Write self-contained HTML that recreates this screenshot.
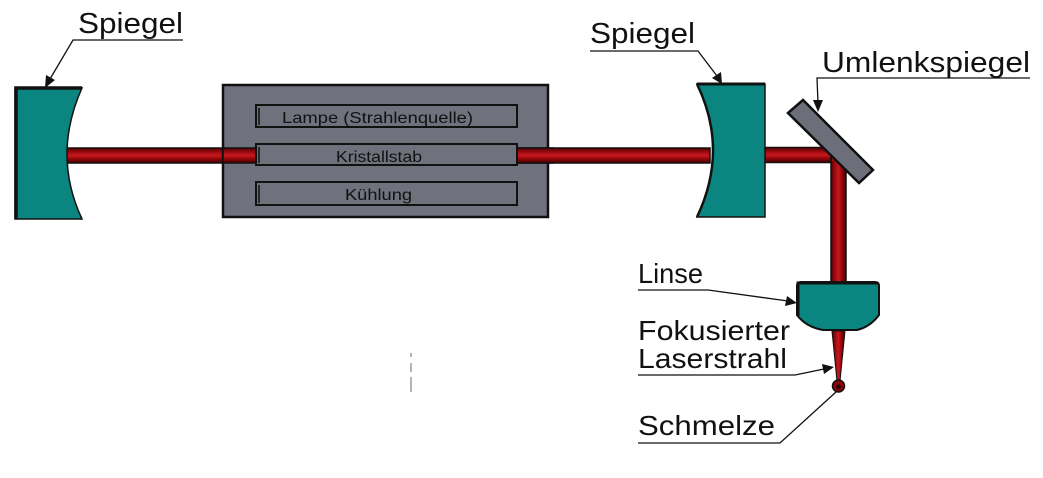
<!DOCTYPE html>
<html>
<head>
<meta charset="utf-8">
<style>
html,body{margin:0;padding:0;background:#fff;}
svg{display:block;}
text{font-family:"Liberation Sans",sans-serif;fill:#111;}
</style>
</head>
<body>
<svg width="1043" height="478" viewBox="0 0 1043 478" xmlns="http://www.w3.org/2000/svg">
<defs>
<linearGradient id="bh" x1="0" y1="0" x2="0" y2="1">
<stop offset="0" stop-color="#5a0000"/>
<stop offset="0.3" stop-color="#a00d12"/>
<stop offset="0.5" stop-color="#c8181e"/>
<stop offset="0.75" stop-color="#8a0508"/>
<stop offset="1" stop-color="#4a0000"/>
</linearGradient>
<linearGradient id="bv" x1="0" y1="0" x2="1" y2="0">
<stop offset="0" stop-color="#5a0000"/>
<stop offset="0.3" stop-color="#a00d12"/>
<stop offset="0.5" stop-color="#c8181e"/>
<stop offset="0.75" stop-color="#8a0508"/>
<stop offset="1" stop-color="#4a0000"/>
</linearGradient>
</defs>

<!-- left beam -->
<rect x="64" y="148" width="200" height="15" fill="url(#bh)" stroke="#111" stroke-width="1.5"/>

<!-- left mirror -->
<path d="M15,88 L82,88 Q52,155 82,219 L15,219 Z" fill="#0b8580" stroke="#111" stroke-width="1.5"/>
<path d="M16,219 L16,88 L82,88" fill="none" stroke="#111" stroke-width="3.5"/>

<!-- gray box -->
<rect x="223" y="85" width="325" height="132" fill="#6f717d" stroke="#111" stroke-width="2.5"/>
<!-- beam through box -->
<rect x="223" y="148" width="330" height="15" fill="url(#bh)" stroke="#111" stroke-width="1.5"/>
<rect x="510" y="148" width="200" height="15" fill="url(#bh)" stroke="#111" stroke-width="1.5"/>

<!-- inner bars -->
<rect x="256" y="105" width="261" height="22" fill="#6f717d" stroke="#111" stroke-width="2"/>
<rect x="256" y="144" width="261" height="21" fill="#6f717d" stroke="#111" stroke-width="2"/>
<rect x="256" y="182" width="261" height="23" fill="#6f717d" stroke="#111" stroke-width="2"/>
<line x1="259" y1="108" x2="259" y2="125" stroke="#111" stroke-width="1.5"/>
<line x1="259" y1="147" x2="259" y2="163" stroke="#111" stroke-width="1.5"/>
<line x1="259" y1="185" x2="259" y2="203" stroke="#111" stroke-width="1.5"/>
<text x="282" y="123" font-size="16" textLength="191" lengthAdjust="spacingAndGlyphs">Lampe (Strahlenquelle)</text>
<text x="336" y="162" font-size="16" textLength="86" lengthAdjust="spacingAndGlyphs">Kristallstab</text>
<text x="345" y="200" font-size="16" textLength="67" lengthAdjust="spacingAndGlyphs">Kühlung</text>

<!-- right beam + deflection -->
<rect x="760" y="147.5" width="86" height="15" fill="url(#bh)" stroke="#111" stroke-width="1.5"/>
<rect x="831" y="147.5" width="15" height="136.5" fill="url(#bv)" stroke="#111" stroke-width="1.5"/>
<rect x="832" y="149" width="13" height="12" fill="#a00d12"/>

<!-- right mirror -->
<path d="M697,84 L765,84 L765,217 L697,217 Q729,150 697,84 Z" fill="#0b8580" stroke="#111" stroke-width="1.5"/>
<path d="M697,84 L765,84" stroke="#111" stroke-width="3"/>
<path d="M697,84 Q729,150 697,217" fill="none" stroke="#111" stroke-width="2.5"/>

<!-- Umlenkspiegel -->
<polygon points="788,113 803,100 873,170 859,183" fill="#6c6e7a" stroke="#111" stroke-width="2.5"/>

<!-- lens -->
<path d="M797,286 Q797,282 801,282 L875,282 Q879,282 879,286 L879,315 Q870,327 857,330 L823,330 Q806,327 797,315 Z" fill="#0b8580" stroke="#111" stroke-width="2"/>
<path d="M798,316 L798,283 L878,283" fill="none" stroke="#111" stroke-width="3"/>

<!-- focused beam -->
<polygon points="832,331 845,331 840,381 837,381" fill="url(#bv)" stroke="#111" stroke-width="1"/>
<circle cx="838.5" cy="386" r="6" fill="#8a0508" stroke="#111" stroke-width="1.5"/>
<circle cx="838.5" cy="387" r="2.5" fill="#300000"/>

<!-- dashed marks -->
<line x1="411" y1="353" x2="411" y2="357" stroke="#9a9a9a" stroke-width="1.5"/>
<line x1="411" y1="363" x2="411" y2="372" stroke="#9a9a9a" stroke-width="1.5"/>
<line x1="411" y1="377" x2="411" y2="392" stroke="#9a9a9a" stroke-width="1.5"/>

<!-- labels -->
<g stroke="#111" stroke-width="1.3" fill="none">
<polyline points="183,40 73,40 50,79"/>
<polyline points="590,51 698,51 717,76"/>
<polyline points="1030,78 817,78 818,103"/>
<polyline points="638,290 708,290 788,301"/>
<polyline points="638,375 795,375 824,369"/>
<polyline points="638,443 780,443 836,392"/>
</g>
<g fill="#111">
<polygon points="45,88 46,75 55,80"/>
<polygon points="722,84 712,78 721,72"/>
<polygon points="818,112 813,100 823,100"/>
<polygon points="797,303 785,306 787,296"/>
<polygon points="834,367 824,374 822,364"/>
</g>

<text x="78" y="33" font-size="29" textLength="105" lengthAdjust="spacingAndGlyphs">Spiegel</text>
<text x="590" y="43" font-size="29" textLength="105" lengthAdjust="spacingAndGlyphs">Spiegel</text>
<text x="822" y="72" font-size="29" textLength="208" lengthAdjust="spacingAndGlyphs">Umlenkspiegel</text>
<text x="638" y="283" font-size="28" textLength="65" lengthAdjust="spacingAndGlyphs">Linse</text>
<text x="638" y="340" font-size="28" textLength="152" lengthAdjust="spacingAndGlyphs">Fokusierter</text>
<text x="638" y="368" font-size="28" textLength="149" lengthAdjust="spacingAndGlyphs">Laserstrahl</text>
<text x="638" y="435" font-size="28" textLength="137" lengthAdjust="spacingAndGlyphs">Schmelze</text>
</svg>
</body>
</html>
